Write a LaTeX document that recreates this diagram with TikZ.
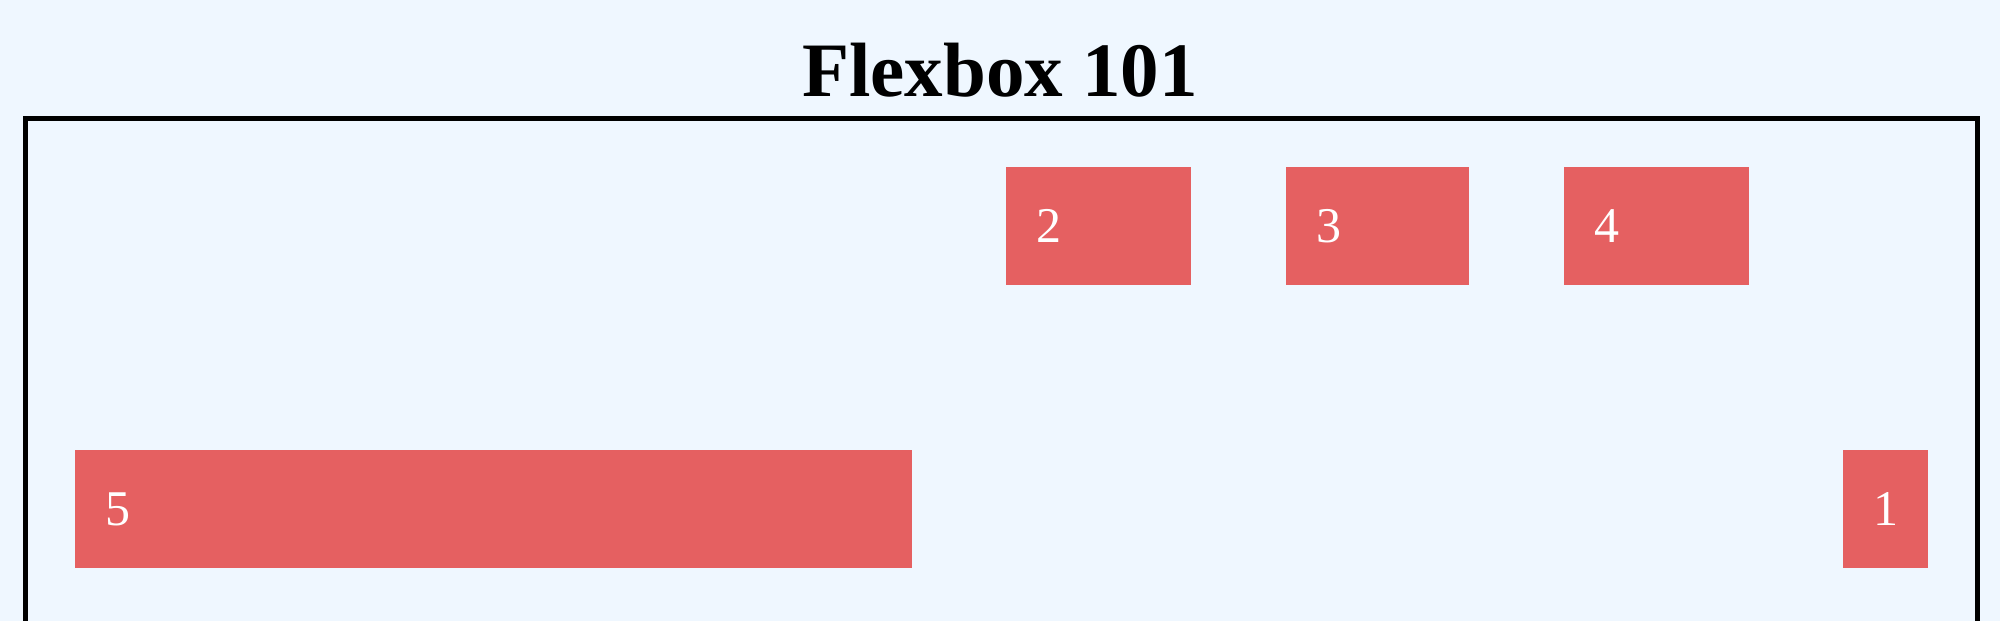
\documentclass[tikz,border=0pt]{standalone}
\usepackage{fontspec}
\setmainfont{Liberation Serif}
\definecolor{bgc}{HTML}{EFF7FF}
\definecolor{boxc}{HTML}{E56061}
\begin{document}
\begin{tikzpicture}[x=1pt,y=1pt,
  box/.style={fill=boxc, draw=none, anchor=north west, minimum height=118pt,
    inner xsep=30pt, inner ysep=0pt, align=left, text=white,
    font=\fontsize{50}{60}\selectfont},
  frame/.style={draw=black, line width=5pt}]
\fill[bgc] (0,0) rectangle (2000,-621);
\useasboundingbox (0,0) rectangle (2000,-621);
\node[anchor=base, font=\fontsize{77}{92}\selectfont\bfseries] (title) at (1000,-96) {Flexbox 101};
\draw[frame] (25.5,-640) -- (25.5,-118.5) -- (1977.5,-118.5) -- (1977.5,-640);
\node[box, text width=125pt] (b2) at (1006,-167) {2};
\node[box, text width=123pt] (b3) at (1286,-167) {3};
\node[box, text width=125pt] (b4) at (1564,-167) {4};
\node[box, text width=777pt] (b5) at (75,-450) {5};
\node[box, text width=25pt, align=center] (b1) at (1843,-450) {1};
\end{tikzpicture}
\end{document}
